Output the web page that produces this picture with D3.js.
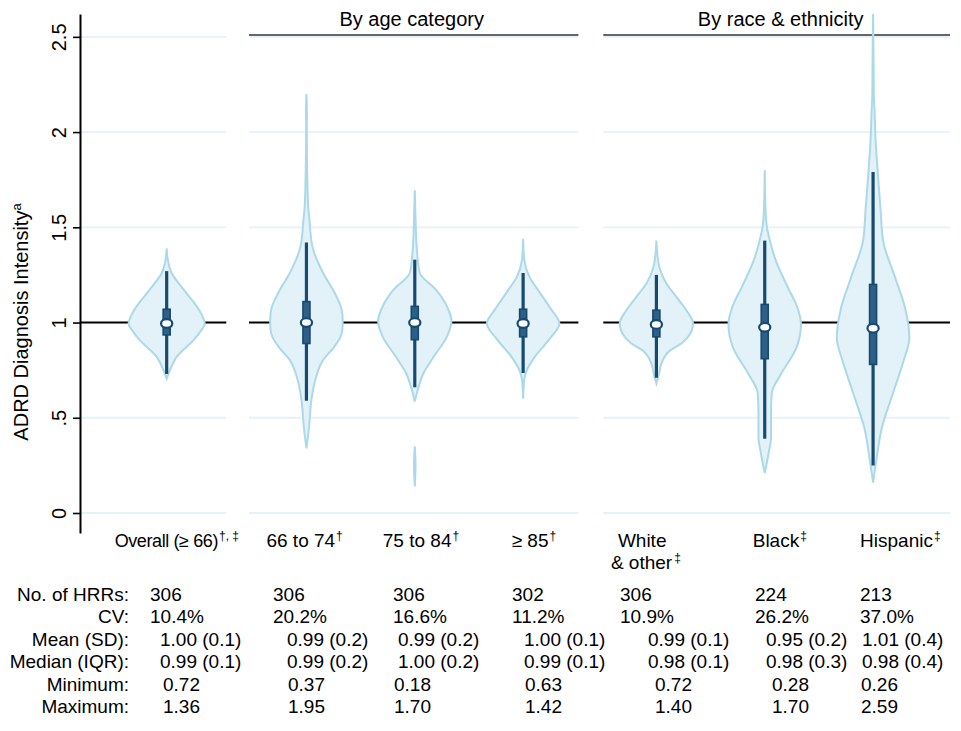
<!DOCTYPE html>
<html>
<head>
<meta charset="utf-8">
<script src="https://cdn.jsdelivr.net/npm/d3@7"></script>
<style>
  body { margin: 0; background: #fff; }
  text { font-family: "Liberation Sans", Arial, Helvetica, sans-serif; fill: #000; }
</style>
</head>
<body>
<div class="chart"></div>
<script>

// categories (x), with their superscript marks and group
const categories = ["Overall (≥ 66)", "66 to 74", "75 to 84", "≥ 85", "White", "Black", "Hispanic"];
const secondLine = ["", "", "", "", "& other", "", ""];
const superMarks = ["†, ‡", "†", "†", "†", "‡", "‡", "‡"];
const groupOf = [0, 1, 1, 1, 2, 2, 2];
const groupNames = ["", "By age category", "By race & ethnicity"];

// box plot stats
const whiskerLo = [0.73, 0.59, 0.66, 0.735, 0.71, 0.39, 0.25];
const q1 = [0.935, 0.89, 0.91, 0.925, 0.925, 0.81, 0.78];
const medians = [0.995, 1.0, 1.0, 0.995, 0.99, 0.975, 0.97];
const q3 = [1.07, 1.11, 1.085, 1.07, 1.065, 1.095, 1.20];
const whiskerHi = [1.27, 1.42, 1.33, 1.26, 1.25, 1.43, 1.79];

// density outlines: [value, relative density]; null = gap
const densOverall = [[1.39,0],[1.33,0.03],[1.26,0.135],[1.17,0.47],[1.08,0.83],[1.04,0.95],[0.995,1.03],[0.95,0.9],[0.91,0.74],[0.82,0.27],[0.76,0.11],[0.705,0]];
const dens6674 = [[2.2,0],[2.1,0.012],[2.0,0.008],[1.85,0.015],[1.7,0.03],[1.6,0.05],[1.54,0.08],[1.4,0.16],[1.26,0.45],[1.155,0.765],[1.07,0.95],[1.015,0.98],[0.96,0.97],[0.925,0.92],[0.87,0.74],[0.8,0.44],[0.7,0.24],[0.595,0.135],[0.45,0.07],[0.34,0]];
const dens7584 = [[1.695,0],[1.55,0.02],[1.4,0.05],[1.33,0.08],[1.26,0.135],[1.17,0.585],[1.08,0.88],[1.01,0.99],[0.925,0.865],[0.82,0.51],[0.73,0.225],[0.66,0.1],[0.585,0],[0.4,null],[0.35,0],[0.25,0.02],[0.14,0]];
const dens85 = [[1.44,0],[1.33,0.03],[1.24,0.17],[1.17,0.405],[1.08,0.72],[0.995,0.98],[0.91,0.7],[0.82,0.315],[0.75,0.1],[0.7,0.03],[0.6,0]];
const densWhite = [[1.43,0],[1.35,0.03],[1.29,0.08],[1.205,0.27],[1.135,0.54],[1.065,0.81],[0.995,0.99],[0.96,0.96],[0.925,0.855],[0.89,0.675],[0.855,0.38],[0.785,0.135],[0.73,0.07],[0.68,0]];
const densBlack = [[1.8,0],[1.6,0.02],[1.5,0.06],[1.43,0.14],[1.33,0.29],[1.19,0.61],[1.08,0.88],[0.99,0.98],[0.87,0.86],[0.73,0.44],[0.63,0.19],[0.52,0.17],[0.4,0.17],[0.31,0.1],[0.21,0]];
const densHispanic = [[2.62,0],[2.4,0.012],[2.2,0.02],[2.11,0.04],[1.95,0.07],[1.83,0.11],[1.6,0.2],[1.43,0.27],[1.24,0.59],[1.065,0.88],[0.92,0.98],[0.79,0.81],[0.63,0.54],[0.45,0.24],[0.28,0.09],[0.16,0]];
const densities = [densOverall, dens6674, dens7584, dens85, densWhite, densBlack, densHispanic];

// y axis
const yTicks = [0, 0.5, 1, 1.5, 2, 2.5];
const yTickLabels = ["0", ".5", "1", "1.5", "2", "2.5"];

// summary table
const rowLabels = ["No. of HRRs:", "CV:", "Mean (SD):", "Median (IQR):", "Minimum:", "Maximum:"];
const nHRR = ["306", "306", "306", "302", "306", "224", "213"];
const cvText = ["10.4%", "20.2%", "16.6%", "11.2%", "10.9%", "26.2%", "37.0%"];
const meanSD = ["1.00 (0.1)", "0.99 (0.2)", "0.99 (0.2)", "1.00 (0.1)", "0.99 (0.1)", "0.95 (0.2)", "1.01 (0.4)"];
const medianIQR = ["0.99 (0.1)", "0.99 (0.2)", "1.00 (0.2)", "0.99 (0.1)", "0.98 (0.1)", "0.98 (0.3)", "0.98 (0.4)"];
const minimum = ["0.72", "0.37", "0.18", "0.63", "0.72", "0.28", "0.26"];
const maximum = ["1.36", "1.95", "1.70", "1.42", "1.40", "1.70", "2.59"];
const tableRows = [nHRR, cvText, meanSD, medianIQR, minimum, maximum];

// layout
const width = 961, height = 731;
const groupGap = [0, 0.29, 0.52];            // extra slot spacing before each group
const panelSpan = [[-0.8, 0.55], [0.76, 3.8], [4.03, 7.23]];
const labelDx = [-52, -40, -32, -11.5, -38.5, -12, -13];
const labelDx2 = [0, 0, 0, 0, -45.5, 0, 0];
const tableX = [[150, 160, 163], [273, 287, 288], [393, 398, 394], [512, 524, 525], [620, 648, 655], [755, 766, 772], [860, 862, 861]];
const navy = "#174a70";

const svg = d3.select(".chart")
    .append("svg")
    .attr("width", width)
    .attr("height", height);

const slots = categories.map((c, i) => i + groupGap[groupOf[i]]);

const x = d3.scaleLinear()
    .domain([-0.8, 7.23])
    .range([80, 950]);

const y = d3.scaleLinear()
    .domain([-0.105, 2.62])
    .range([533, 14]);

const w = d3.scaleLinear()
    .domain([0, 1])
    .range([0, 37]);

// gridlines + reference line at 1, per panel
panelSpan.forEach(function (p) {
    svg.append("g")
        .selectAll("line")
        .data(yTicks)
        .enter()
        .append("line")
            .attr("x1", x(p[0]))
            .attr("x2", x(p[1]))
            .attr("y1", d => y(d))
            .attr("y2", d => y(d))
            .style("stroke", "#e5f2f7")
            .style("stroke-width", 1.8);
    svg.append("line")
        .attr("x1", x(p[0]))
        .attr("x2", x(p[1]))
        .attr("y1", y(1))
        .attr("y2", y(1))
        .style("stroke", "#000")
        .style("stroke-width", 2);
});

// group headers
[1, 2].forEach(function (g) {
    const p = panelSpan[g];
    svg.append("line")
        .attr("x1", x(p[0]))
        .attr("x2", x(p[1]))
        .attr("y1", 35)
        .attr("y2", 35)
        .style("stroke", "#333")
        .style("stroke-width", 1.6);
    svg.append("text")
        .attr("x", (x(p[0]) + x(p[1])) / 2 + (g == 2 ? 4 : -2))
        .attr("y", 26)
        .attr("text-anchor", "middle")
        .style("font-size", "20px")
        .text(groupNames[g]);
});

// y axis
const yAxis = svg.append("g")
    .attr("transform", "translate(80,0)")
    .call(d3.axisLeft(y)
        .tickValues(yTicks)
        .tickFormat((d, i) => yTickLabels[i])
        .tickSize(7)
        .tickSizeOuter(0));
yAxis.select(".domain").style("stroke", "#000").style("stroke-width", 2);
yAxis.selectAll(".tick line").style("stroke", "#000").style("stroke-width", 1.6);
yAxis.selectAll(".tick text")
    .attr("x", null).attr("dy", null)
    .attr("transform", "translate(-14,0) rotate(-90)")
    .attr("text-anchor", "middle")
    .style("font-size", "20px")
    .style("font-family", "'Liberation Sans', Arial, sans-serif");

const yTitle = svg.append("text")
    .attr("transform", "translate(28," + 322 + ") rotate(-90)")
    .attr("text-anchor", "middle")
    .style("font-size", "20px");
yTitle.append("tspan").text("ADRD Diagnosis Intensity");
yTitle.append("tspan").attr("dy", -7).style("font-size", "13px").text("a");

// violins
const area = d3.area()
    .defined(d => d[1] !== null)
    .y(d => y(d[0]))
    .curve(d3.curveMonotoneY);

svg.append("g")
    .selectAll("path")
    .data(densities)
    .enter()
    .append("path")
        .attr("d", function (d, i) {
            const cx = x(slots[i]);
            return area.x0(p => cx - w(p[1])).x1(p => cx + w(p[1]))(d);
        })
        .style("fill", "#e3f2f8")
        .style("stroke", "#acd9e7")
        .style("stroke-width", 2);

// whiskers
svg.append("g")
    .selectAll("line")
    .data(categories)
    .enter()
    .append("line")
        .attr("x1", (d, i) => x(slots[i]))
        .attr("x2", (d, i) => x(slots[i]))
        .attr("y1", (d, i) => y(whiskerLo[i]))
        .attr("y2", (d, i) => y(whiskerHi[i]))
        .style("stroke", navy)
        .style("stroke-width", 3.2);

// IQR boxes
svg.append("g")
    .selectAll("rect")
    .data(categories)
    .enter()
    .append("rect")
        .attr("x", (d, i) => x(slots[i]) - 3.5)
        .attr("width", 7)
        .attr("y", (d, i) => y(q3[i]))
        .attr("height", (d, i) => y(q1[i]) - y(q3[i]))
        .style("fill", "#2f5f86")
        .style("stroke", navy)
        .style("stroke-width", 1.6);

// medians
svg.append("g")
    .selectAll("ellipse")
    .data(categories)
    .enter()
    .append("ellipse")
        .attr("cx", (d, i) => x(slots[i]))
        .attr("cy", (d, i) => y(medians[i]))
        .attr("rx", 5.6)
        .attr("ry", 4.3)
        .style("fill", "#fff")
        .style("stroke", navy)
        .style("stroke-width", 2.2);

// category labels
const labels = svg.append("g")
    .selectAll("text.cat")
    .data(categories)
    .enter()
    .append("text")
        .attr("class", "cat")
        .attr("x", (d, i) => x(slots[i]) + labelDx[i])
        .attr("y", 547)
        .style("font-size", (d, i) => i == 0 ? "18px" : "19px")
        .style("letter-spacing", (d, i) => i == 0 ? "-0.4px" : null);
labels.append("tspan")
    .text(d => d);
labels.filter((d, i) => secondLine[i] == "")
    .append("tspan")
        .attr("dx", 1)
        .attr("dy", -7)
        .style("font-size", "12px")
        .style("letter-spacing", "0px")
        .text((d, i) => superMarks[i]);
labels.filter((d, i) => secondLine[i] != "")
    .append("tspan")
        .attr("x", (d, i) => x(slots[4]) + labelDx2[4])
        .attr("y", 569)
        .text((d, i) => secondLine[4]);
labels.filter((d, i) => secondLine[i] != "")
    .append("tspan")
        .attr("dx", 2)
        .attr("dy", -7)
        .style("font-size", "12px")
        .text(superMarks[4]);

// summary table
const rowY = d3.scaleLinear().domain([0, 5]).range([601, 713]);

svg.append("g")
    .selectAll("text")
    .data(rowLabels)
    .enter()
    .append("text")
        .attr("x", 129)
        .attr("y", (d, i) => rowY(i))
        .attr("text-anchor", "end")
        .style("font-size", "19px")
        .text(d => d);

tableRows.forEach(function (row, r) {
    svg.append("g")
        .selectAll("text")
        .data(row)
        .enter()
        .append("text")
            .attr("x", (d, i) => tableX[i][Math.floor(r / 2)])
            .attr("y", rowY(r))
            .style("font-size", "19px")
            .text(d => d);
});

</script>
</body>
</html>
